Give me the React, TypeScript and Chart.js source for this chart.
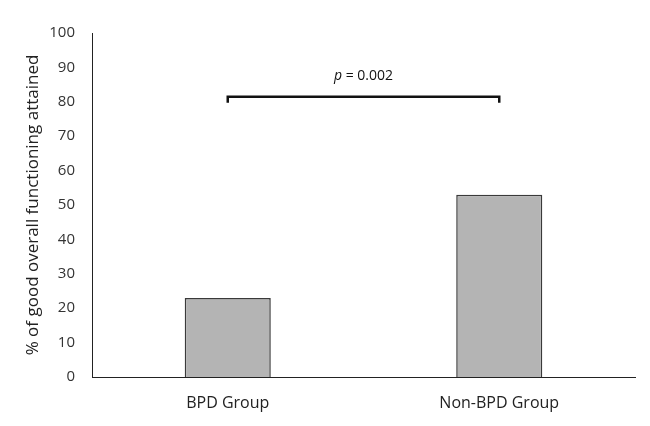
import React, { useEffect, useRef } from "react";
import { Chart, registerables } from "chart.js";

Chart.register(...registerables);

const categories = ["BPD Group", "Non-BPD Group"];
const values = [23, 53];
const yTicks = [0, 10, 20, 30, 40, 50, 60, 70, 80, 90, 100];
const bracketLevel = 81.5;
const labelLevel = 87.5;
const pLabel = "0.002";
const yTitle = "% of good overall functioning attained";

const FONT = "'Open Sans', 'Liberation Sans', sans-serif";

const bracketPlugin = {
  id: "bracket",
  afterDatasetsDraw(chart: any) {
    const ctx = chart.ctx;
    const x = chart.scales.x;
    const y = chart.scales.y;
    const x1 = x.getPixelForValue(0);
    const x2 = x.getPixelForValue(1);
    const yb = y.getPixelForValue(bracketLevel);
    const yl = y.getPixelForValue(labelLevel);
    ctx.save();
    ctx.strokeStyle = "#111";
    ctx.lineWidth = 2.5;
    ctx.beginPath();
    ctx.moveTo(x1, yb + 6);
    ctx.lineTo(x1, yb);
    ctx.lineTo(x2, yb);
    ctx.lineTo(x2, yb + 6);
    ctx.stroke();
    ctx.fillStyle = "#111";
    ctx.textBaseline = "middle";
    const italic = "italic 14px " + FONT;
    const normal = "14px " + FONT;
    ctx.font = italic;
    const w1 = ctx.measureText("p").width;
    ctx.font = normal;
    const rest = " = " + pLabel;
    const w2 = ctx.measureText(rest).width;
    const cx = (x1 + x2) / 2;
    const start = cx - (w1 + w2) / 2;
    ctx.textAlign = "left";
    ctx.font = italic;
    ctx.fillText("p", start, yl);
    ctx.font = normal;
    ctx.fillText(rest, start + w1, yl);
    ctx.restore();
  },
};

export default function App() {
  const ref = useRef<HTMLCanvasElement | null>(null);
  useEffect(() => {
    if (!ref.current) return;
    const chart = new Chart(ref.current, {
      type: "bar",
      data: {
        labels: categories,
        datasets: [
          {
            data: values,
            backgroundColor: "#b4b4b4",
            borderColor: "#3a3a3a",
            borderWidth: 1.5,
            barPercentage: 0.317,
            categoryPercentage: 1,
          },
        ],
      },
      options: {
        animation: false,
        responsive: false,
        maintainAspectRatio: false,
        layout: { padding: { top: 33, right: 15, left: 23, bottom: 0 } },
        plugins: {
          legend: { display: false },
          tooltip: { enabled: false },
        },
        scales: {
          x: {
            grid: { display: false, drawTicks: false },
            border: { display: true, color: "#222", width: 1 },
            ticks: {
              color: "#222",
              font: { family: FONT, size: 16 },
              padding: 17,
            },
            afterFit(scale: any) {
              scale.height = 49;
            },
          },
          y: {
            min: 0,
            max: 100,
            grid: { display: false, drawTicks: false },
            border: { display: true, color: "#222", width: 1 },
            afterBuildTicks(scale: any) {
              scale.ticks = yTicks.map((v) => ({ value: v }));
            },
            ticks: {
              color: "#333",
              font: { family: FONT, size: 15 },
              padding: 17,
            },
            title: {
              display: true,
              text: yTitle,
              color: "#222",
              font: { family: FONT, size: 17 },
              padding: 0,
            },
            afterFit(scale: any) {
              scale.width = 69;
            },
          },
        },
      },
      plugins: [bracketPlugin],
    });
    return () => chart.destroy();
  }, []);
  return (
    <div style={{ position: "fixed", left: 0, top: 0, width: 650, height: 426, background: "#fff" }}>
      <canvas ref={ref} width={650} height={426} style={{ width: 650, height: 426 }} />
    </div>
  );
}
